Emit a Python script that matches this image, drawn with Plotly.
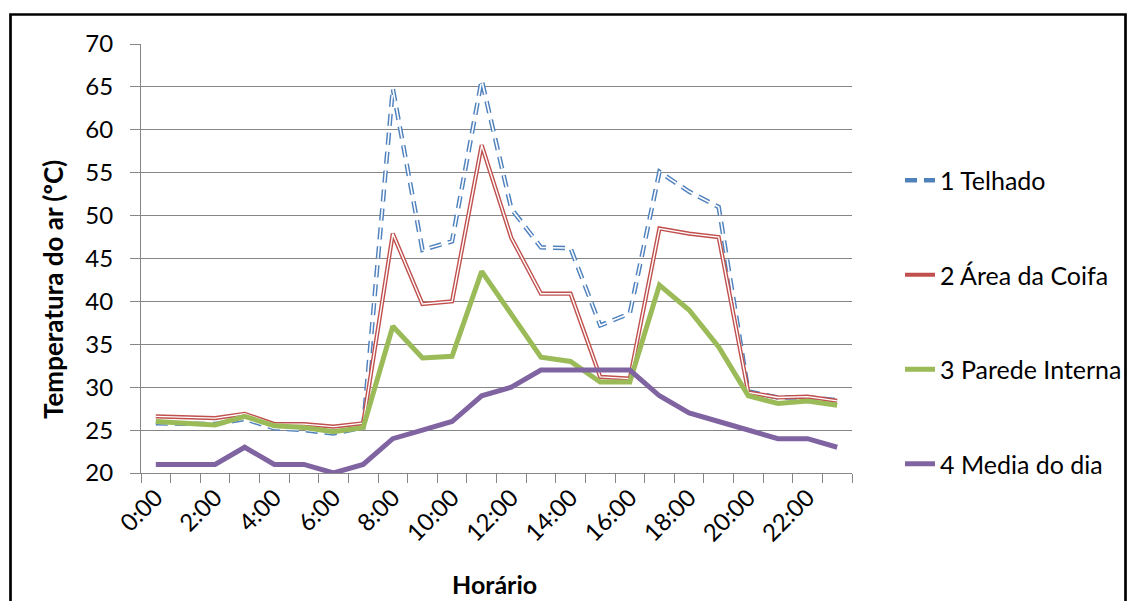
import plotly.graph_objects as go

horarios = ["0:00", "1:00", "2:00", "3:00", "4:00", "5:00", "6:00", "7:00",
            "8:00", "9:00", "10:00", "11:00", "12:00", "13:00", "14:00", "15:00",
            "16:00", "17:00", "18:00", "19:00", "20:00", "21:00", "22:00", "23:00"]

telhado = [25.8, 25.7, 25.7, 26.3, 25.2, 25.0, 24.6, 25.3, 64.8, 46.0, 47.0, 65.8,
           50.8, 46.3, 46.2, 37.2, 38.6, 55.1, 52.8, 51.0, 29.5, 28.8, 28.8, 28.5]
coifa = [26.6, 26.5, 26.4, 26.9, 25.7, 25.7, 25.4, 25.8, 47.9, 39.7, 40.0, 58.2,
         47.4, 40.9, 40.9, 31.2, 31.0, 48.5, 47.9, 47.5, 29.4, 28.8, 28.9, 28.4]
parede = [26.0, 25.8, 25.6, 26.6, 25.5, 25.3, 24.8, 25.3, 37.1, 33.4, 33.6, 43.5,
          38.6, 33.5, 33.0, 30.6, 30.6, 41.9, 39.0, 34.7, 29.0, 28.1, 28.4, 27.9]
media = [21, 21, 21, 23, 21, 21, 20, 21, 24, 25, 26, 29,
         30, 32, 32, 32, 32, 29, 27, 26, 25, 24, 24, 23]

nomes = ["1 Telhado", "2 Área da Coifa", "3 Parede Interna", "4 Media do dia"]
cores = ["#4F81BD", "#C0504D", "#9BBB59", "#8064A2"]

x = list(range(len(horarios)))
FONT = "Lato"

fig = go.Figure()
# 1 Telhado: rounded double dashed line (blue outline, white core)
fig.add_trace(go.Scatter(x=x, y=telhado, mode="lines", name=nomes[0], legendgroup="g1",
                         line=dict(color=cores[0], width=4.5, dash="12px,7px")))
fig.add_trace(go.Scatter(x=x, y=telhado, mode="lines", showlegend=False, legendgroup="g1",
                         hoverinfo="skip", line=dict(color="white", width=1.6, dash="12px,7px")))
# 2 Área da Coifa: double line
fig.add_trace(go.Scatter(x=x, y=coifa, mode="lines", name=nomes[1], legendgroup="g2",
                         line=dict(color=cores[1], width=4.2)))
fig.add_trace(go.Scatter(x=x, y=coifa, mode="lines", showlegend=False, legendgroup="g2",
                         hoverinfo="skip", line=dict(color="white", width=1.4)))
fig.add_trace(go.Scatter(x=x, y=parede, mode="lines", name=nomes[2], legendgroup="g3",
                         line=dict(color=cores[2], width=5)))
fig.add_trace(go.Scatter(x=x, y=media, mode="lines", name=nomes[3], legendgroup="g4",
                         line=dict(color=cores[3], width=5)))

grid = "#868686"
W, H = 1127, 601
fig.update_layout(
    width=W, height=H,
    margin=dict(l=141, r=275, t=44, b=128, autoexpand=False),
    paper_bgcolor="white", plot_bgcolor="white",
    font=dict(family=FONT, size=24, color="black"),
    showlegend=True,
    legend=dict(xref="container", yref="container", x=900 / W, xanchor="left",
                y=1 - 157.5 / H, yanchor="top", maxheight=420,
                tracegroupgap=59, font=dict(family=FONT, size=25, color="black"),
                bgcolor="rgba(0,0,0,0)"),
    xaxis=dict(range=[-0.5, len(horarios) - 0.5], tickvals=x[::2], ticktext=horarios[::2],
               tickangle=-45, ticks="", showgrid=False, zeroline=False, automargin=False,
               showline=True, linecolor=grid, linewidth=1,
               tickfont=dict(family=FONT, size=24, color="black"),
               minor=dict(tick0=-0.5, dtick=1, ticks="outside", ticklen=9,
                          tickcolor=grid, tickwidth=1, showgrid=False)),
    yaxis=dict(range=[20, 70], dtick=5, ticks="outside", ticklen=10, tickcolor=grid,
               showgrid=True, gridcolor=grid, gridwidth=1, zeroline=False, automargin=False,
               showline=True, linecolor=grid, linewidth=1, ticklabelstandoff=12,
               tickfont=dict(family=FONT, size=24, color="black")),
    annotations=[
        dict(text="<b>Temperatura do ar (ºC)</b>", textangle=-90,
             xref="paper", yref="paper", x=(53 - 141) / 711, y=(473 - 290) / 429,
             xanchor="center", yanchor="middle", showarrow=False,
             font=dict(family=FONT, size=26, color="black")),
        dict(text="<b>Horário</b>", xref="paper", yref="paper",
             x=(494.5 - 141) / 711, y=(473 - 584) / 429,
             xanchor="center", yanchor="middle", showarrow=False,
             font=dict(family=FONT, size=25, color="black")),
    ],
    shapes=[dict(type="rect", xref="paper", yref="paper",
                 x0=(10.5 - 141) / 711, x1=(1125.5 - 141) / 711,
                 y0=(473 - 640) / 429, y1=(473 - 14.5) / 429,
                 line=dict(color="black", width=2.7), fillcolor="rgba(0,0,0,0)", layer="above")],
)

fig.write_html("out.html",
               config={"displayModeBar": False, "responsive": False},
               post_script="document.body.style.margin='0';document.body.style.overflow='hidden';")
